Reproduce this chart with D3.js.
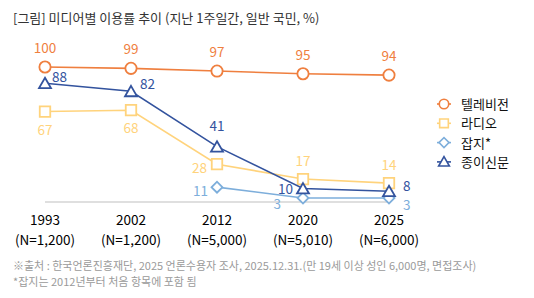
<!DOCTYPE html>
<html>
<head>
<meta charset="utf-8">
<script src="https://cdn.jsdelivr.net/npm/d3@7"></script>
<style>
  body { margin: 0; background: #fff; }
  text { font-family: "Noto Sans CJK KR", "Noto Sans", sans-serif; }
</style>
</head>
<body>
<svg id="chart" width="534" height="298"></svg>
<script>
const years = ["1993", "2002", "2012", "2020", "2025"];
const sampleSizes = ["(N=1,200)", "(N=1,200)", "(N=5,000)", "(N=5,010)", "(N=6,000)"];
const seriesNames = ["텔레비전", "라디오", "잡지*", "종이신문"];
const tvValues = [100, 99, 97, 95, 94];
const radioValues = [67, 68, 28, 17, 14];
const magazineValues = [null, null, 11, 3, 3];
const newspaperValues = [88, 82, 41, 10, 8];

const title = "[그림] 미디어별 이용률 추이 (지난 1주일간, 일반 국민, %)";
const notes = [
  "※출처 : 한국언론진흥재단, 2025 언론수용자 조사, 2025.12.31.(만 19세 이상 성인 6,000명, 면접조사)",
  "*잡지는 2012년부터 처음 항목에 포함 됨"
];

const svg = d3.select("#chart");

const x = d3.scalePoint().domain(years).range([45, 389]);
const y = d3.scaleLinear().domain([0, 100]).range([202, 67]);

// label placement per point: [dx, dy, anchor]
const series = [
  { name: seriesNames[0], values: tvValues, color: "#ef7f3f", shape: "circle",
    labels: years.map(() => [0, -14, "middle"]) },
  { name: seriesNames[1], values: radioValues, color: "#ffd37c", shape: "square",
    labels: [[0, 23, "middle"], [0, 23, "middle"], [-10, 9, "end"], [0, -13, "middle"], [0, -13, "middle"]] },
  { name: seriesNames[2], values: magazineValues, color: "#7daedb", shape: "diamond",
    labels: [null, null, [-9, 9, "end"], [-22, 11, "end"], [14, 12, "start"]] },
  { name: seriesNames[3], values: newspaperValues, color: "#33539e", shape: "triangle",
    labels: [[7, -1, "start"], [9, -2, "start"], [0, -16, "middle"], [-10, 5, "end"], [14, 0, "start"]] }
];

const symbolTypes = {
  circle: d3.symbolCircle, square: d3.symbolSquare,
  diamond: d3.symbolSquare, triangle: d3.symbolTriangle
};
const markSizes = { circle: 100, square: 110, diamond: 60, triangle: 62 };
const legendSizes = { circle: 70, square: 75, diamond: 50, triangle: 50 };

function markTransform(shape, cx, cy) {
  if (shape === "diamond") return `translate(${cx},${cy}) rotate(45)`;
  if (shape === "triangle") return `translate(${cx},${cy + 1.5})`;
  return `translate(${cx},${cy})`;
}

// title
svg.append("text")
  .attr("x", 13).attr("y", 23)
  .attr("font-size", 13).attr("fill", "#333")
  .text(title);

// baseline
svg.append("line")
  .attr("x1", x(years[0])).attr("x2", x(years[years.length - 1]))
  .attr("y1", y(0)).attr("y2", y(0))
  .attr("stroke", "#bfbfbf").attr("stroke-width", 1);

// category labels
const xAxis = svg.append("g");
years.forEach((yr, i) => {
  const t = xAxis.append("text")
    .attr("x", x(yr)).attr("text-anchor", "middle")
    .attr("font-size", 13.5).attr("fill", "#000");
  t.append("tspan").attr("x", x(yr)).attr("y", 225).text(yr);
  t.append("tspan").attr("x", x(yr)).attr("y", 245).text(sampleSizes[i]);
});

const line = d3.line()
  .defined(d => d.v != null)
  .x(d => x(d.year))
  .y(d => y(d.v));

const drawOrder = [1, 2, 3, 0];
drawOrder.forEach(si => {
  const s = series[si];
  const pts = years.map((yr, i) => ({ year: yr, v: s.values[i], lab: s.labels[i] }));
  const g = svg.append("g");
  g.append("path")
    .attr("d", line(pts))
    .attr("fill", "none").attr("stroke", s.color).attr("stroke-width", 1.6);
  const valid = pts.filter(d => d.v != null);
  g.selectAll("path.mark").data(valid).join("path")
    .attr("class", "mark")
    .attr("transform", d => markTransform(s.shape, x(d.year), y(d.v)))
    .attr("d", d3.symbol().type(symbolTypes[s.shape]).size(markSizes[s.shape])())
    .attr("fill", "#fff").attr("stroke", s.color).attr("stroke-width", 1.8);
  g.selectAll("text").data(valid).join("text")
    .attr("x", d => x(d.year) + d.lab[0])
    .attr("y", d => y(d.v) + d.lab[1])
    .attr("text-anchor", d => d.lab[2])
    .attr("font-size", 13.5).attr("fill", s.color)
    .text(d => d.v);
});

// legend
const legend = svg.append("g");
series.forEach((s, i) => {
  const cy = 104 + i * 19.3;
  legend.append("line")
    .attr("x1", 437).attr("x2", 451).attr("y1", cy).attr("y2", cy)
    .attr("stroke", s.color).attr("stroke-width", 1.6);
  legend.append("path")
    .attr("transform", markTransform(s.shape, 444, cy - (s.shape === "triangle" ? 0.5 : 0)))
    .attr("d", d3.symbol().type(symbolTypes[s.shape]).size(legendSizes[s.shape])())
    .attr("fill", "#fff").attr("stroke", s.color).attr("stroke-width", 1.6);
  legend.append("text")
    .attr("x", 461).attr("y", cy + 5)
    .attr("font-size", 13).attr("fill", "#111")
    .text(s.name);
});

// footnotes
notes.forEach((n, i) => {
  svg.append("text")
    .attr("x", 13).attr("y", 270 + i * 16)
    .attr("font-size", 11).attr("fill", "#9a9a9a")
    .text(n);
});
</script>
</body>
</html>
